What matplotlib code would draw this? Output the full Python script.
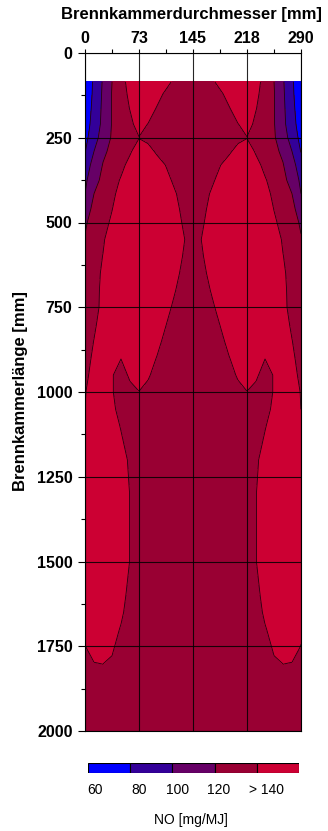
import numpy as np
import matplotlib.pyplot as plt

plt.rcParams['font.family'] = ['Liberation Sans', 'DejaVu Sans']

# measuring grid: diameter positions [mm] and chamber length positions [mm]
x_mm = [0, 12.1, 24.2, 36.3, 48.3, 60.4, 72.5, 84.6, 96.7, 108.8, 120.8, 132.9, 145,
        157.1, 169.2, 181.3, 193.3, 205.4, 217.5, 229.6, 241.7, 253.8, 265.8, 277.9, 290]
y_mm = [85, 120, 165, 210, 250, 290, 330, 375, 415, 460, 500, 550, 600, 650, 700, 750,
        800, 850, 900, 950, 1000, 1050, 1100, 1200, 1300, 1400, 1500, 1600, 1650, 1700,
        1750, 1800, 1850, 1900, 2000]

# NO concentration [mg/MJ], one row per y position
no_values = [
    [65, 83, 102, 120, 134, 146, 150, 150, 150, 147, 135, 126, 126, 126, 135, 147, 150, 150, 150, 146, 134, 120, 102, 83, 65],
    [65, 84, 103, 121, 132, 144, 150, 150, 148, 136, 126, 126, 126, 126, 126, 136, 148, 150, 150, 144, 132, 121, 103, 84, 65],
    [67, 86, 104, 121, 131, 140.5, 150, 150, 138, 126, 126, 126, 126, 126, 126, 126, 138, 150, 150, 140.5, 131, 121, 104, 86, 67],
    [70, 88, 105, 121, 129, 136, 146.5, 139.5, 127, 126, 126, 126, 126, 126, 126, 126, 127, 139.5, 146.5, 136, 129, 121, 105, 88, 70],
    [74, 92, 109, 122, 127.5, 133.5, 139.5, 133.5, 127.5, 126, 126, 126, 126, 126, 126, 126, 127.5, 133.5, 139.5, 133.5, 127.5, 122, 109, 92, 74],
    [79, 100, 116, 125, 131.5, 138, 148.5, 148.5, 136, 126, 126, 126, 126, 126, 126, 126, 136, 148.5, 148.5, 138, 131.5, 125, 116, 100, 79],
    [91, 106, 121, 128, 135.5, 145, 150, 150, 150, 139, 127, 126, 126, 126, 127, 139, 150, 150, 150, 145, 135.5, 128, 121, 106, 91],
    [96, 113, 125, 133, 141.5, 150, 150, 150, 150, 147, 135, 126, 126, 126, 135, 147, 150, 150, 150, 150, 141.5, 133, 125, 113, 96],
    [100, 120, 128, 136, 146, 150, 150, 150, 150, 150, 142, 130, 126, 130, 142, 150, 150, 150, 150, 150, 146, 136, 128, 120, 100],
    [114.5, 123, 131, 139.5, 150, 150, 150, 150, 150, 150, 146, 134, 126, 134, 146, 150, 150, 150, 150, 150, 150, 139.5, 131, 123, 114.5],
    [118, 126, 134, 143, 150, 150, 150, 150, 150, 150, 149, 137, 126, 137, 149, 150, 150, 150, 150, 150, 150, 143, 134, 126, 118],
    [121, 129, 138, 149, 150, 150, 150, 150, 150, 150, 150, 141, 129, 141, 150, 150, 150, 150, 150, 150, 150, 149, 138, 129, 121],
    [123, 132, 140.5, 150, 150, 150, 150, 150, 150, 150, 150, 138, 126, 138, 150, 150, 150, 150, 150, 150, 150, 150, 140.5, 132, 123],
    [125, 133, 143, 150, 150, 150, 150, 150, 150, 150, 146, 134, 126, 134, 146, 150, 150, 150, 150, 150, 150, 150, 143, 133, 125],
    [126, 134, 144, 150, 150, 150, 150, 150, 150, 150, 141, 129, 126, 129, 141, 150, 150, 150, 150, 150, 150, 150, 144, 134, 126],
    [127, 135, 144, 150, 150, 150, 150, 150, 150, 147, 135, 126, 126, 126, 135, 147, 150, 150, 150, 150, 150, 150, 144, 135, 127],
    [128, 137, 148, 150, 150, 150, 150, 150, 150, 140.5, 128.5, 126, 126, 126, 128.5, 140.5, 150, 150, 150, 150, 150, 150, 148, 137, 128],
    [130, 140.5, 150, 150, 150, 150, 150, 150, 146, 134, 126, 126, 126, 126, 126, 134, 146, 150, 150, 150, 150, 150, 150, 140.5, 130],
    [133, 143.5, 150, 146, 140.5, 145, 147, 149, 139, 127, 126, 126, 126, 126, 126, 127, 139, 149, 147, 145, 140.5, 146, 150, 143.5, 133],
    [136, 146, 150, 141.5, 131, 143.5, 150, 143, 131, 126, 126, 126, 126, 126, 126, 126, 131, 143, 150, 143.5, 131, 141.5, 150, 146, 136],
    [139, 149, 150, 141.5, 131, 134, 139.5, 133, 128, 126, 126, 126, 126, 126, 126, 126, 128, 133, 139.5, 134, 131, 141.5, 150, 149, 139],
    [139.9, 147, 150, 144.5, 133, 128, 128, 126, 126, 126, 126, 126, 126, 126, 126, 126, 126, 126, 128, 128, 133, 144.5, 150, 147, 139.9],
    [144, 148, 150, 150, 138.5, 126, 126, 126, 126, 126, 126, 126, 126, 126, 126, 126, 126, 126, 126, 126, 138.5, 150, 150, 148, 144],
    [145, 150, 150, 150, 148.5, 136.5, 126, 126, 126, 126, 126, 126, 126, 126, 126, 126, 126, 126, 126, 136.5, 148.5, 150, 150, 150, 145],
    [145, 150, 150, 150, 150, 139.5, 127.5, 126, 126, 126, 126, 126, 126, 126, 126, 126, 126, 126, 127.5, 139.5, 150, 150, 150, 150, 145],
    [145, 150, 150, 150, 150, 139.5, 127.5, 126, 126, 126, 126, 126, 126, 126, 126, 126, 126, 126, 127.5, 139.5, 150, 150, 150, 150, 145],
    [145, 150, 150, 150, 150, 139.5, 127.5, 126, 126, 126, 126, 126, 126, 126, 126, 126, 126, 126, 127.5, 139.5, 150, 150, 150, 150, 145],
    [145, 150, 150, 150, 146.5, 134.5, 126, 126, 126, 126, 126, 126, 126, 126, 126, 126, 126, 126, 126, 134.5, 146.5, 150, 150, 150, 145],
    [143, 150, 150, 150, 143.5, 131.5, 126, 126, 126, 126, 126, 126, 126, 126, 126, 126, 126, 126, 126, 131.5, 143.5, 150, 150, 150, 143],
    [141.5, 147, 148, 147, 138.5, 126.5, 126, 126, 126, 126, 126, 126, 126, 126, 126, 126, 126, 126, 126, 126.5, 138.5, 147, 148, 147, 141.5],
    [139.8, 143.5, 144.5, 142.5, 134, 128, 126, 126, 126, 126, 126, 126, 126, 126, 126, 126, 126, 126, 126, 128, 134, 142.5, 144.5, 143.5, 139.8],
    [137.5, 139.8, 140.2, 138, 131, 127, 126, 126, 126, 126, 126, 126, 126, 126, 126, 126, 126, 126, 126, 127, 131, 138, 140.2, 139.8, 137.5],
    [136, 137, 137, 135, 130, 127, 126, 126, 126, 126, 126, 126, 126, 126, 126, 126, 126, 126, 126, 127, 130, 135, 137, 137, 136],
    [134, 135, 135, 133, 129, 127, 126, 126, 126, 126, 126, 126, 126, 126, 126, 126, 126, 126, 126, 127, 129, 133, 135, 135, 134],
    [131, 132, 132, 131, 128, 126, 126, 126, 126, 126, 126, 126, 126, 126, 126, 126, 126, 126, 126, 126, 128, 131, 132, 132, 131],
]

levels = [60, 80, 100, 120, 140, 160]
colors = ['#0000FF', '#330099', '#660066', '#990033', '#CC0033']
cbar_labels = ['60', '80', '100', '120', '> 140']
x_ticks = [0, 73, 145, 218, 290]

fig = plt.figure(figsize=(3.28, 8.31), dpi=100)
ax = fig.add_axes([85/328, 1 - 731/831, 216/328, 678/831])

ax.contourf(x_mm, y_mm, no_values, levels=levels, colors=colors)
ax.contour(x_mm, y_mm, no_values, levels=levels[1:-1], colors='#200010', linewidths=0.6)

ax.set_xlim(0, 290)
ax.set_ylim(2000, 0)
ax.xaxis.tick_top()
ax.set_xticks(x_ticks)
ax.set_xticks([36.25, 108.75, 181.25, 253.75], minor=True)
ax.set_yticks(range(0, 2001, 250))
ax.set_yticks(range(125, 2000, 250), minor=True)
ax.set_xticklabels([str(t) for t in x_ticks], fontweight='bold')
ax.set_yticklabels([str(t) for t in range(0, 2001, 250)], fontweight='bold')
ax.tick_params(axis='x', which='both', direction='out', length=3, pad=2, labelsize=11.5, width=0.8)
ax.tick_params(axis='y', which='major', direction='out', length=5, pad=4, labelsize=11.5, width=0.8)
ax.tick_params(axis='y', which='minor', direction='out', length=3, width=0.8)
ax.grid(which='major', color='black', linewidth=0.8, alpha=0.85)
ax.set_axisbelow(False)
for sp in ax.spines.values():
    sp.set_linewidth(0.8)

fig.text(191/328, 1 - 15/831, 'Brennkammerdurchmesser [mm]', ha='center', va='center',
         fontsize=12, fontweight='bold')
fig.text(21/328, 1 - 391/831, 'Brennkammerlänge [mm]', rotation=90, ha='center', va='center',
         fontsize=12, fontweight='bold')

# legend bar
cax = fig.add_axes([88/328, 1 - 773/831, 211/328, 10/831])
cax.bar(range(5), [1] * 5, width=1, align='edge', color=colors, edgecolor='black', linewidth=0.8)
cax.set_xlim(0, 5)
cax.set_ylim(0, 1)
cax.set_axis_off()
for pos, lab in zip([0.17, 1.21, 2.12, 3.1, 4.24], cbar_labels):
    cax.text(pos, -1.7, lab, ha='center', va='center', fontsize=10)
fig.text(191/328, 1 - 820/831, 'NO [mg/MJ]', ha='center', va='center', fontsize=10)

fig.savefig('out.png', dpi=100)
